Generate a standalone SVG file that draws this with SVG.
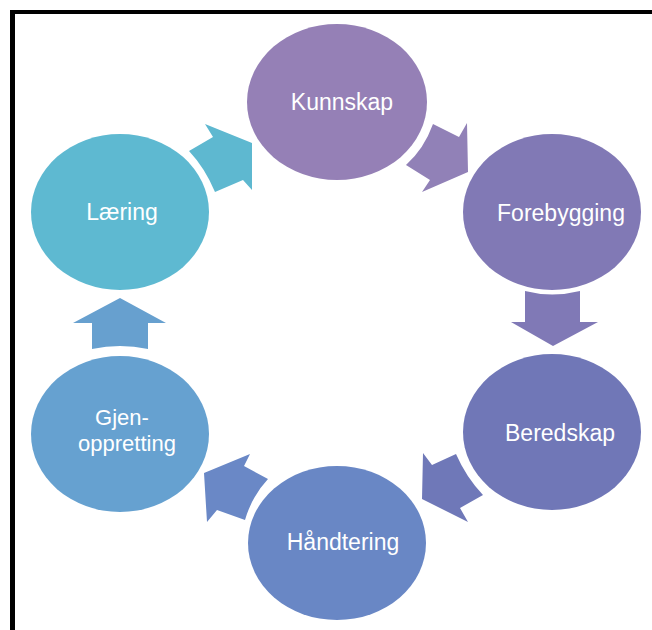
<svg xmlns="http://www.w3.org/2000/svg" width="652" height="630" viewBox="0 0 652 630">
<style>
.lbl{font-family:"Liberation Sans",Arial,sans-serif;font-size:23px;fill:#ffffff;text-anchor:middle}
.sm{font-size:22px}
</style>
<rect x="0" y="0" width="652" height="630" fill="#ffffff"/>
<g id="frame">
<rect x="10" y="10" width="642" height="4" fill="#000000"/>
<rect x="10" y="10" width="5" height="620" fill="#000000"/>
</g>
<g id="connectors">
<path d="M189,151 L213,137 L205,124 L252,143 L252,190 L243,180 L215,192 Q205,168 189,151 Z" fill="#5EB8D0"/>
<path d="M433,124 L459,137 L467,123 L468,172 L422,192 L430,180 L406,165 Q424,149 433,124 Z" fill="#9181B7"/>
<path d="M525,291 Q552,298 580,291 L580,322 L598,322 L553,346 L511,322 L525,322 Z" fill="#8079B6"/>
<path d="M423,453 L432,465 L456,454 Q466,477 483,495 L460,508 L468,522 L422,499 Z" fill="#6F78B8"/>
<path d="M204,473 L250,454 L244,466 L268,479 Q252,496 245,520 L217,510 L207,522 Z" fill="#6A88C6"/>
<path d="M92,349 L92,323 L73,323 L120,298 L166,323 L148,323 L148,349 Q120,343 92,349 Z" fill="#67A0CF"/>
</g>
<g id="kunnskap">
<ellipse cx="337" cy="102" rx="90" ry="78" fill="#9580B6"/>
<text class="lbl" x="342" y="110">Kunnskap</text>
</g>
<g id="forebygging">
<ellipse cx="552" cy="212" rx="89" ry="78" fill="#8179B5"/>
<text class="lbl" x="561" y="221">Forebygging</text>
</g>
<g id="beredskap">
<ellipse cx="552" cy="432" rx="89" ry="78" fill="#7077B7"/>
<text class="lbl" x="560" y="441">Beredskap</text>
</g>
<g id="handtering">
<ellipse cx="337" cy="543" rx="89" ry="77" fill="#6987C5"/>
<text class="lbl" x="343" y="550">Håndtering</text>
</g>
<g id="gjenoppretting">
<ellipse cx="120" cy="434" rx="89" ry="78" fill="#66A1D0"/>
<text class="lbl sm" x="122" y="425">Gjen-</text>
<text class="lbl sm" x="127" y="451">oppretting</text>
</g>
<g id="laering">
<ellipse cx="120" cy="212" rx="89" ry="78" fill="#5EB9D1"/>
<text class="lbl" x="122" y="220">Læring</text>
</g>
</svg>
